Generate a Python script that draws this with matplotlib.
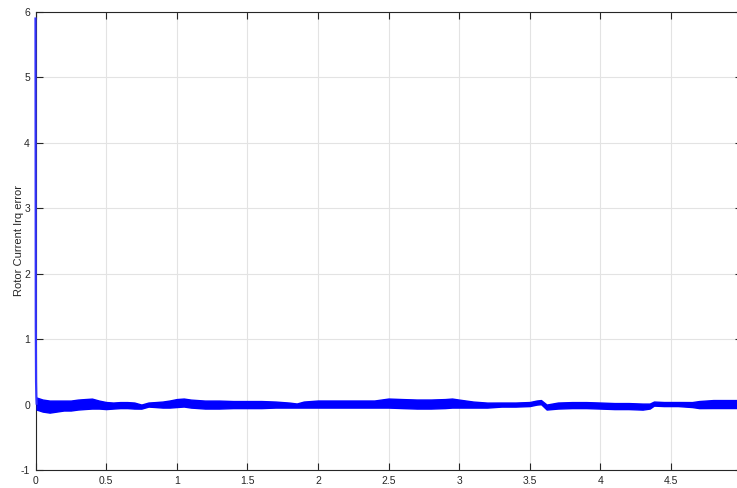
import numpy as np
import matplotlib
matplotlib.use("Agg")
import matplotlib.pyplot as plt

plt.rcParams['font.family'] = ['Liberation Sans', 'DejaVu Sans']
plt.rcParams['axes.unicode_minus'] = False

# initial spike of the error signal
spike_t = [0.0, 0.002, 0.004, 0.006, 0.008]
spike_v = [5.9, 1.2, 0.35, 0.12, 0.015]

# band of the steady oscillation: time, centre and half width
band_t = [0.008, 0.05, 0.1, 0.15, 0.2, 0.25, 0.3, 0.35, 0.4, 0.45,
          0.5, 0.55, 0.6, 0.65, 0.7, 0.75, 0.8, 0.85, 0.9, 0.95,
          1.0, 1.05, 1.1, 1.2, 1.3, 1.4, 1.5, 1.6, 1.7, 1.8,
          1.85, 1.9, 2.0, 2.1, 2.2, 2.3, 2.4, 2.5, 2.6, 2.7,
          2.8, 2.9, 2.95, 3.0, 3.1, 3.2, 3.3, 3.4, 3.5, 3.55,
          3.58, 3.62, 3.7, 3.8, 3.9, 4.0, 4.1, 4.2, 4.3, 4.35,
          4.38, 4.45, 4.55, 4.65, 4.7, 4.8, 4.9, 4.97]
band_c = [0.015, -0.015, -0.031, -0.023, -0.015, -0.015, 0.0, 0.008, 0.015, 0.0,
          -0.015, -0.015, -0.008, -0.008, -0.015, -0.031, 0.0, 0.0, 0.0, 0.008,
          0.023, 0.031, 0.015, 0.0, 0.0, 0.0, 0.0, 0.0, 0.0, -0.008,
          -0.015, 0.0, 0.008, 0.008, 0.008, 0.008, 0.008, 0.023, 0.015, 0.008,
          0.008, 0.015, 0.023, 0.015, 0.0, -0.008, 0.0, 0.0, 0.008, 0.031,
          0.038, -0.038, -0.015, -0.008, -0.008, -0.015, -0.023, -0.023, -0.031, -0.023,
          0.015, 0.008, 0.008, 0.0, 0.0, 0.008, 0.008, 0.008]
band_h = [0.092, 0.092, 0.092, 0.084, 0.076, 0.076, 0.076, 0.076, 0.076, 0.061,
          0.054, 0.046, 0.046, 0.046, 0.046, 0.031, 0.031, 0.038, 0.046, 0.054,
          0.061, 0.061, 0.061, 0.061, 0.061, 0.054, 0.054, 0.054, 0.046, 0.038,
          0.031, 0.046, 0.054, 0.054, 0.054, 0.054, 0.054, 0.069, 0.069, 0.069,
          0.069, 0.069, 0.069, 0.061, 0.046, 0.038, 0.031, 0.031, 0.031, 0.031,
          0.031, 0.038, 0.046, 0.046, 0.046, 0.046, 0.046, 0.046, 0.046, 0.038,
          0.031, 0.031, 0.031, 0.038, 0.054, 0.061, 0.061, 0.061]

xticks = [0, 0.5, 1, 1.5, 2, 2.5, 3, 3.5, 4, 4.5, 5]
xlabels = ['0', '0.5', '1', '1.5', '2', '2.5', '3', '3.5', '4', '4.5', '']
yticks = [-1, 0, 1, 2, 3, 4, 5, 6]

W, H = 737, 488
fig = plt.figure(figsize=(W / 100, H / 100), dpi=100)
ax = fig.add_axes([35.5 / W, 18 / H, 706 / W, 458 / H])

c = np.array(band_c)
h = np.array(band_h)
ax.fill_between(band_t, c - h, c + h, color='#0000ff', lw=1.0, zorder=3)
ax.plot(spike_t, spike_v, color='#3333ff', lw=1.6, zorder=4, clip_on=False)

ax.set_xlim(0, 5)
ax.set_ylim(-1, 6)
ax.set_xticks(xticks)
ax.set_xticklabels(xlabels)
ax.set_yticks(yticks)
ax.grid(True, color='#e3e3e3', lw=0.8)
ax.set_axisbelow(True)
ax.tick_params(direction='in', length=5, width=0.8, top=True, right=True,
               labelsize=7.5, colors='#262626', pad=4)
for s in ax.spines.values():
    s.set_color('#262626')
    s.set_linewidth(0.8)
ax.spines['left'].set_zorder(2)
ax.set_ylabel('Rotor Current Irq error', fontsize=8, color='#262626')
ax.yaxis.set_label_coords(-0.0165, 0.5)

fig.savefig('out.png', dpi=100)
